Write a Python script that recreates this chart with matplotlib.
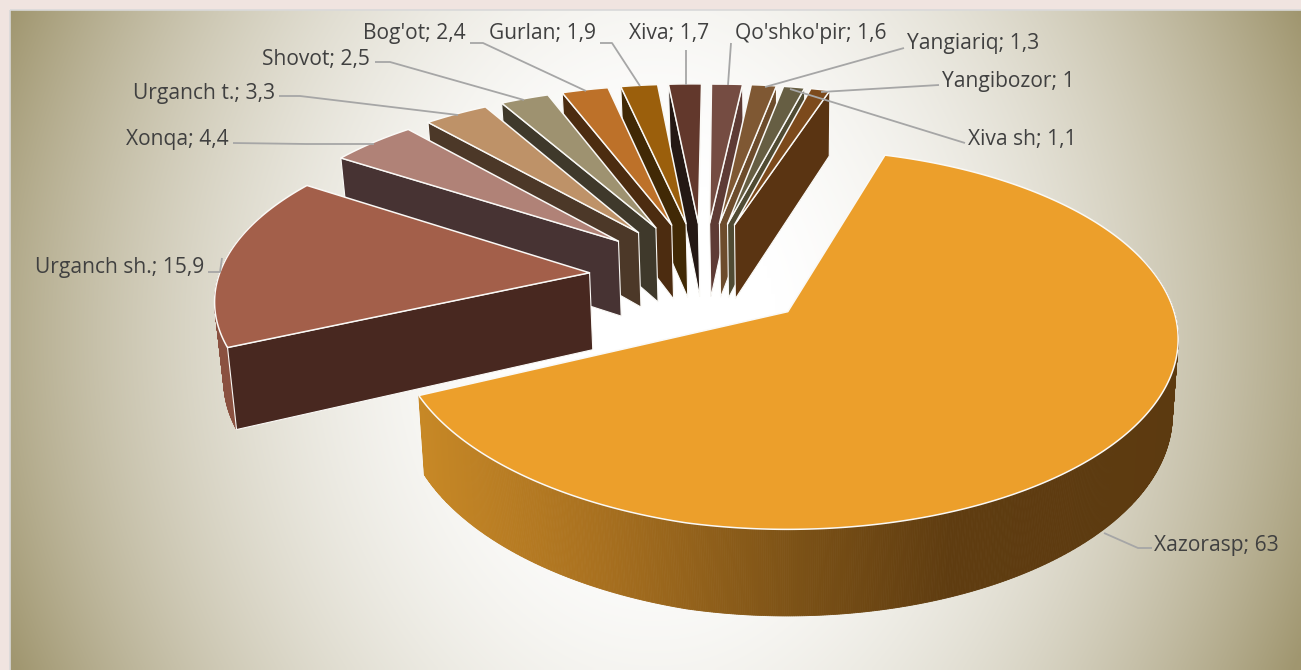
import numpy as np
import matplotlib
matplotlib.use("Agg")
import matplotlib.pyplot as plt
from matplotlib.patches import Polygon, Rectangle
from matplotlib.colors import to_rgb

# ---- data ----
districts = ["Xazorasp", "Urganch sh.", "Xonqa", "Urganch t.", "Shovot", "Bog'ot", "Gurlan",
             "Xiva", "Qo'shko'pir", "Yangiariq", "Xiva sh", "Yangibozor"]
shares = [63, 15.9, 4.4, 3.3, 2.5, 2.4, 1.9, 1.7, 1.6, 1.3, 1.1, 1]
value_labels = ["63", "15,9", "4,4", "3,3", "2,5", "2,4", "1,9", "1,7", "1,6", "1,3", "1,1", "1"]
face_colors = ["#EC9F2B", "#A35F4A", "#B08277", "#BE9268", "#9E9270", "#BD7129", "#9B5F0C",
               "#62382C", "#754C42", "#7F5833", "#665E43", "#7C4A1C"]
wall_colors = ["#5C3A10", "#482820", "#473333", "#4C3828", "#3F392B", "#4C2C10", "#412905",
               "#241814", "#5E3B35", "#6D4C2C", "#504B33", "#5A3412"]

# ---- projection set-up ----
START = 16.6
EXPLODE_X = 0.31
EXPLODE_Y = 0.327
EXPLODE_BIG = 0.3032
BIG_DIR = 130.3
R_BIG = 1.024
X0, Y0 = 703.0, 277.0
XC = 790.0
S, A, K = 367.0, 172.0, 0.138
ROLL = 8.0
H = 77.0
H_BIG = 72.0
CONV = 0.016

def project(x, y, z=0.0):
    w = 1 + K * y
    px = XC + (X0 - XC + S * x) / w
    py = Y0 + (ROLL * np.minimum(x, 0) - A * y + z) / w
    px = px + (XC - px) * CONV * (z / H)
    return px, py

total = sum(shares)
spans = np.array(shares) / total * 360.0
starts = START + np.concatenate([[0], np.cumsum(spans)[:-1]])

fig = plt.figure(figsize=(13.01, 6.70), dpi=100)
ax = fig.add_axes([0, 0, 1, 1])
ax.set_xlim(0, 1301)
ax.set_ylim(670, 0)
ax.axis("off")
fig.patch.set_facecolor("#F0E4E0")

# background
gx, gy = np.meshgrid(np.linspace(10, 1301, 323), np.linspace(10, 670, 166))
u = (gx - 655) / 645
v = (gy - 335) / 330
t = 0.80 * u**2 + 0.12 * v**2 + 0.08 * u**2 * v**2
c0 = np.array(to_rgb("#FFFFFF"))
c1 = np.array(to_rgb("#A0966F"))
tt = np.clip((t - 0.03) / 0.97, 0, 1)[..., None]
img = c0 * (1 - tt) + c1 * tt
ax.imshow(img, extent=(10, 1301, 670, 10), aspect="auto", interpolation="bilinear", zorder=0)
ax.set_xlim(0, 1301)
ax.set_ylim(670, 0)
ax.add_patch(Rectangle((10, 10), 1300, 670, fill=False, ec="#D9D9D9", lw=1.2, zorder=1))

outer_stops = [(420, "#C78826"), (600, "#A8701F"), (800, "#7B5116"), (950, "#5F3C10"), (1200, "#5C3A10")]
def outer_color(px):
    xs = [s[0] for s in outer_stops]
    cs = np.array([to_rgb(s[1]) for s in outer_stops])
    return tuple(np.interp(px, xs, cs[:, i]) for i in range(3))

order = []
for i in range(len(shares)):
    mid = starts[i] + spans[i] / 2
    d = np.radians(BIG_DIR if i == 0 else mid)
    ex_ = EXPLODE_BIG if i == 0 else EXPLODE_X
    ey_ = EXPLODE_BIG if i == 0 else EXPLODE_Y
    order.append((ey_ * np.cos(d), i, ex_ * np.sin(d), ey_ * np.cos(d)))
order.sort(key=lambda r: -r[0])

WHITE = "#FAF9F6"
z = 5
for _, i, ax_, ay_ in order:
    r = R_BIG if i == 0 else 1.0
    h = H_BIG if i == 0 else H
    a = np.radians(np.linspace(starts[i], starts[i] + spans[i], max(12, int(spans[i] * 4))))
    xs = ax_ + r * np.sin(a)
    ys = ay_ + r * np.cos(a)
    tx, ty = project(xs, ys)
    bx, by = project(xs, ys, h)
    acx, acy = project(ax_, ay_)
    abx, aby = project(ax_, ay_, h)
    # outer wall
    vis = np.cos(a) < 0.3
    idx = np.where(vis)[0]
    if len(idx) > 1:
        for j0, j1 in zip(idx[:-1], idx[1:]):
            col = outer_color(0.5 * (tx[j0] + tx[j1])) if i == 0 else "#8A5140"
            ax.add_patch(Polygon([(tx[j0], ty[j0]), (tx[j1], ty[j1]), (bx[j1], by[j1]), (bx[j0], by[j0])],
                                 fc=col, ec=col, lw=0.6, zorder=z))
    z += 1
    # radial wall
    if i != 0:
        if acx < 702:
            ex, ey, fx, fy = tx[0], ty[0], bx[0], by[0]
        else:
            ex, ey, fx, fy = tx[-1], ty[-1], bx[-1], by[-1]
        ax.add_patch(Polygon([(acx, acy), (ex, ey), (fx, fy), (abx, aby)],
                             fc=wall_colors[i], ec=WHITE, lw=0.8, zorder=z))
    z += 1
    # top face
    ax.add_patch(Polygon(np.column_stack([np.r_[acx, tx], np.r_[acy, ty]]),
                         fc=face_colors[i], ec=WHITE, lw=1.1, joinstyle="round", zorder=z))
    z += 1

# labels with leader lines: text anchor, then line from the text to the slice
labels = {
    "Xazorasp":    (1154, 544, "left",  [(1152, 548), (1138, 548), (1104, 533)]),
    "Urganch sh.": (204, 265, "right",  [(208, 272), (220, 272), (222, 258)]),
    "Xonqa":       (229, 138, "right",  [(233, 143), (306, 144), (374, 144)]),
    "Urganch t.":  (275, 91, "right",   [(279, 96), (300, 96), (458, 115)]),
    "Shovot":      (370, 57, "right",   [(375, 62), (390, 62), (524, 100)]),
    "Bog'ot":      (466, 31, "right",   [(470, 43), (483, 43), (586, 91)]),
    "Gurlan":      (596, 31, "right",   [(600, 43), (612, 43), (640, 86)]),
    "Xiva":        (709, 31, "right",   [(686, 50), (686, 85)]),
    "Qo'shko'pir": (735, 31, "left",    [(731, 43), (728, 85)]),
    "Yangiariq":   (907, 42, "left",    [(904, 48), (765, 87)]),
    "Yangibozor":  (942, 79, "left",    [(939, 85), (821, 92)]),
    "Xiva sh":     (968, 137, "left",   [(965, 143), (790, 89)]),
}
for name, val in zip(districts, value_labels):
    lx, ly, ha, pts = labels[name]
    ax.text(lx, ly + 2, f"{name}; {val}", ha=ha, va="center", fontsize=15.1, color="#404040",
            family="Open Sans", zorder=200)
    p = np.array(pts)
    ax.plot(p[:, 0], p[:, 1], color="#A6A6A6", lw=1.3, zorder=150, solid_capstyle="butt")

fig.savefig("out.png", dpi=100, facecolor=fig.get_facecolor())
